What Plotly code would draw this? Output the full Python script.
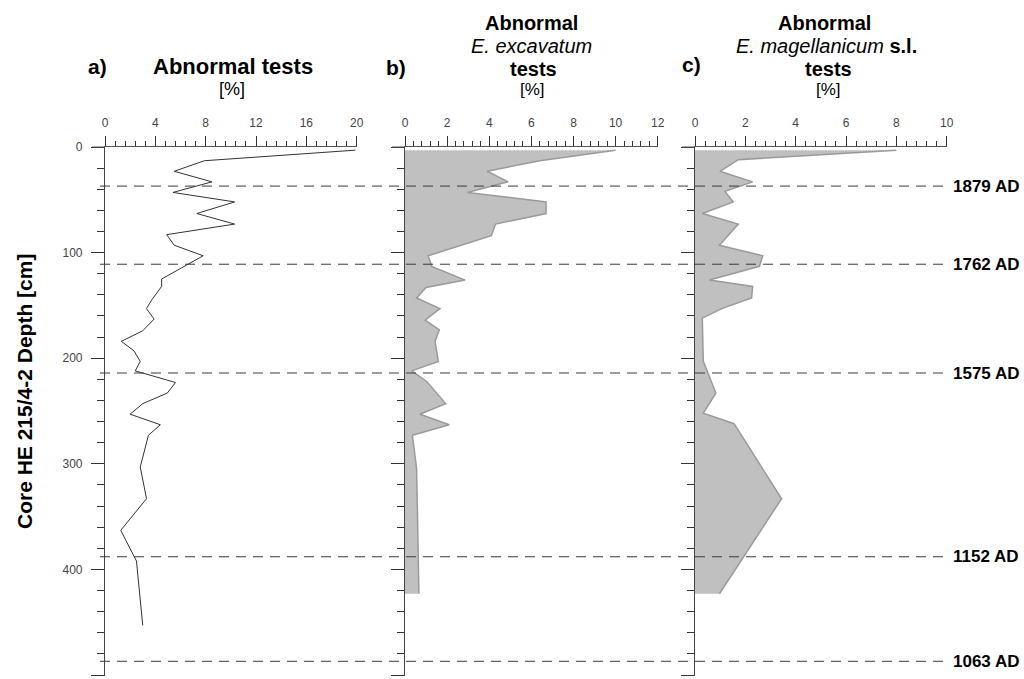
import plotly.graph_objects as go

W, H = 1024, 679

# ---------------- data ----------------
depth_a = [3, 13, 23, 33, 43, 52, 63, 73, 83, 93, 103, 125, 132, 145, 153, 163, 174, 184,
           193, 203, 212, 223, 233, 243, 253, 263, 273, 303, 333, 363, 392, 453]
abnormal_a = [19.9, 7.9, 5.5, 8.5, 5.4, 10.3, 7.3, 10.3, 4.9, 5.5, 7.8, 4.5, 4.5, 3.7, 3.3, 3.9,
              3.0, 1.3, 2.3, 2.8, 2.4, 5.6, 4.95, 3.0, 2.0, 4.4, 3.45, 2.8, 3.3, 1.25, 2.5, 3.0]

depth_b = [3, 13, 23, 33, 43, 52, 63, 73, 84, 103, 113, 126, 133, 143, 153, 164, 173, 184,
           203, 212, 222, 243, 253, 263, 273, 304, 344, 383, 423]
excavatum_b = [10.0, 6.4, 3.9, 4.9, 2.96, 6.7, 6.7, 4.3, 4.1, 1.1, 1.27, 2.85, 1.0, 0.55, 1.66,
               0.95, 1.63, 1.43, 1.58, 0.32, 1.03, 1.93, 0.71, 2.1, 0.35, 0.55, 0.59, 0.63, 0.66]

depth_c = [3, 12, 23, 33, 42, 52, 63, 73, 93, 103, 113, 126, 132, 143, 153, 162, 203, 233,
           252, 262, 333, 423]
magellanicum_c = [8.0, 1.72, 0.99, 2.29, 1.19, 1.52, 0.29, 1.72, 0.97, 2.69, 2.56, 0.57, 2.29,
                  2.25, 1.06, 0.29, 0.33, 0.83, 0.33, 1.55, 3.44, 0.97]

age_depths = [37, 111, 214, 388, 487]
age_labels = ["1879 AD", "1762 AD", "1575 AD", "1152 AD", "1063 AD"]

# ---------------- layout helpers ----------------
FONT = "Liberation Sans, Arial, sans-serif"
px = lambda x: x / W
py = lambda y: 1 - y / H

ydom = [py(676.1), py(147)]
panels = [  # (x0px, x1px, xmax, dtick, minor)
    (105, 356.7, 20, 4, 0.8),
    (405, 657.7, 12, 2, 0.4),
    (695, 946.7, 10, 2, 0.4),
]

fig = go.Figure()

fig.add_trace(go.Scatter(x=abnormal_a, y=depth_a, mode="lines",
                         line=dict(color="#333333", width=1), xaxis="x", yaxis="y"))
fig.add_trace(go.Scatter(x=excavatum_b, y=depth_b, mode="lines", fill="tozerox",
                         fillcolor="#c0c0c0", line=dict(color="#9a9a9a", width=1.5),
                         xaxis="x2", yaxis="y2"))
fig.add_trace(go.Scatter(x=magellanicum_c, y=depth_c, mode="lines", fill="tozerox",
                         fillcolor="#c0c0c0", line=dict(color="#9a9a9a", width=1.5),
                         xaxis="x3", yaxis="y3"))

layout = dict(width=W, height=H, margin=dict(l=0, r=0, t=0, b=0, autoexpand=False),
              paper_bgcolor="white", plot_bgcolor="white", showlegend=False,
              font=dict(family=FONT, color="#000"))

shapes = []
for i, (x0, x1, xmax, dt, mn) in enumerate(panels):
    sfx = "" if i == 0 else str(i + 1)
    layout["xaxis" + sfx] = dict(
        domain=[px(x0), px(x1)], range=[0, xmax], side="top", anchor="y" + sfx,
        automargin=False,
        tick0=0, dtick=dt, ticks="outside", ticklen=10, tickcolor="#333", tickwidth=1,
        showline=True, linecolor="#555", linewidth=1, showgrid=False, zeroline=False,
        tickfont=dict(family=FONT, size=12, color="#444"), ticklabelstandoff=4,
        minor=dict(dtick=mn, tick0=0, ticks="outside", ticklen=5, tickcolor="#333",
                   tickwidth=1, showgrid=False),
        fixedrange=True)
    layout["yaxis" + sfx] = dict(
        domain=ydom, range=[501, 0], anchor="x" + sfx, tick0=0, dtick=100,
        automargin=False,
        ticks="outside", ticklen=13, tickcolor="#333", tickwidth=1,
        showline=True, linecolor="#444", linewidth=1.2, showgrid=False, zeroline=False,
        showticklabels=(i == 0), tickfont=dict(family=FONT, size=12, color="#444"),
        ticklabelstandoff=6,
        minor=dict(dtick=20, tick0=0, ticks="outside", ticklen=7, tickcolor="#333",
                   tickwidth=1, showgrid=False),
        fixedrange=True)
    # horizontal axis line extension left of 0
    shapes.append(dict(type="line", xref="paper", yref="paper", x0=px(x0 - 13), x1=px(x0),
                       y0=py(147), y1=py(147), line=dict(color="#555", width=1)))

for d in age_depths:
    shapes.append(dict(type="line", xref="paper", yref="y", x0=px(100), x1=px(945),
                       y0=d, y1=d, line=dict(color="#3a3a3a", width=1, dash="10px,7px"),
                       layer="above"))

annotations = []
for d, lab in zip(age_depths, age_labels):
    annotations.append(dict(xref="paper", yref="y", x=px(951), y=d, text="<b>%s</b>" % lab,
                            xanchor="left", yanchor="middle", showarrow=False,
                            font=dict(family=FONT, size=17, color="#000")))

def title(x, y, text, size=20):
    annotations.append(dict(xref="paper", yref="paper", x=px(x), y=py(y), text=text,
                            xanchor="center", yanchor="middle", showarrow=False,
                            borderpad=0,
                            font=dict(family=FONT, size=size, color="#000")))

title(97, 67, "<b>a)</b>", 21)
title(233, 67, "<b>Abnormal tests</b>", 22)
title(232, 89, "[%]", 18)

title(396, 68, "<b>b)</b>", 21)
title(531, 23, "<b>Abnormal</b>")
title(531, 46, "<i>E. excavatum</i>")
title(533, 69, "<b>tests</b>")
title(532, 90, "[%]", 17)

title(691, 64, "<b>c)</b>", 21)
title(824, 23, "<b>Abnormal</b>")
title(826, 46, "<i>E. magellanicum</i> <b>s.l.</b>")
title(828, 69, "<b>tests</b>")
title(828, 90, "[%]", 17)

annotations.append(dict(xref="paper", yref="paper", x=px(25), y=py(392),
                        text="<b>Core HE 215/4-2 Depth [cm]</b>", textangle=-90,
                        xanchor="center", yanchor="middle", showarrow=False,
                        font=dict(family=FONT, size=21, color="#000")))

layout["shapes"] = shapes
layout["annotations"] = annotations
fig.update_layout(**layout)

fig.write_html("out.html")
